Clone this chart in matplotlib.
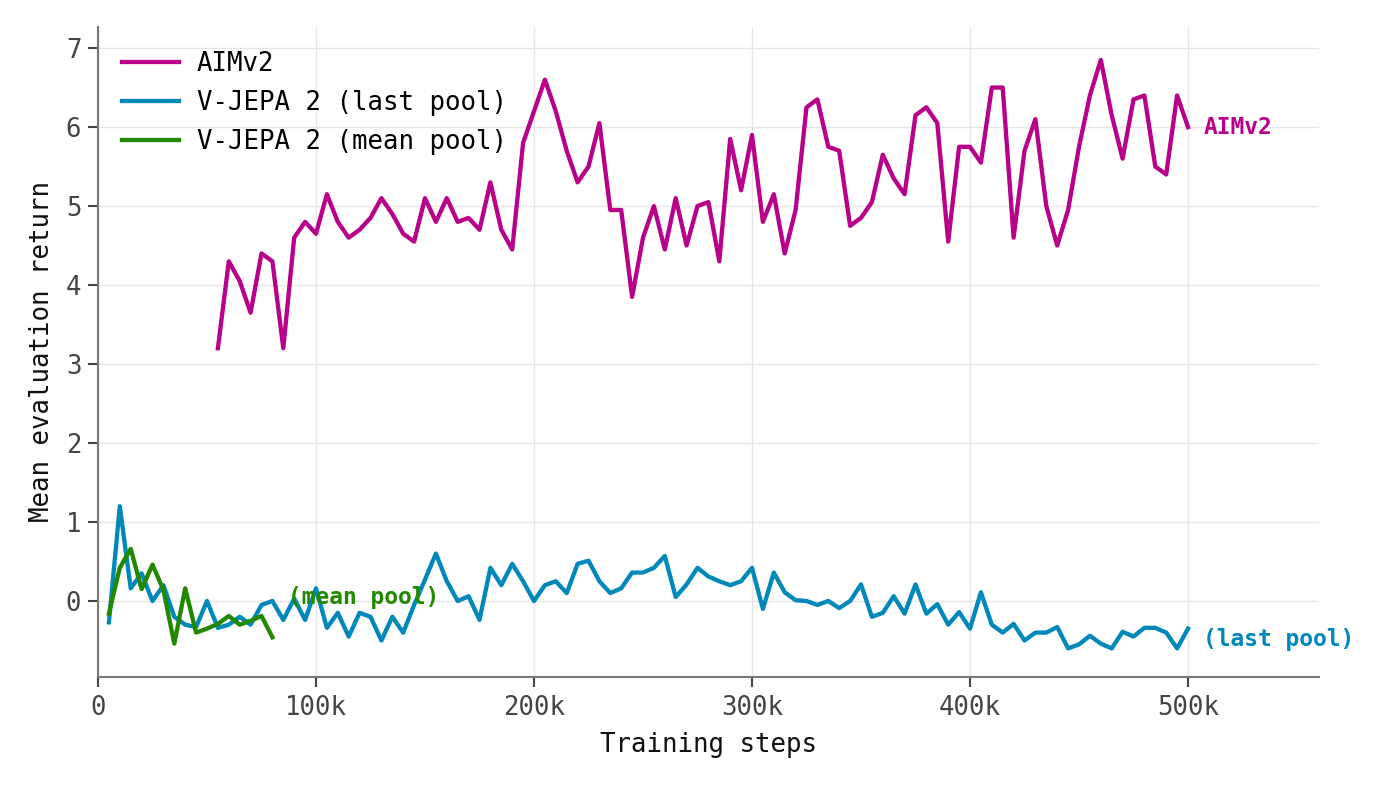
import numpy as np
import matplotlib
matplotlib.use('Agg')
import matplotlib.pyplot as plt

# training steps (thousands) and mean evaluation return
aim_steps = np.arange(55, 501, 5) * 1000
aim_ret = [3.2, 4.3, 4.05, 3.65, 4.4, 4.3, 3.2, 4.6, 4.8, 4.65,
           5.15, 4.8, 4.6, 4.7, 4.85, 5.1, 4.9, 4.65, 4.55, 5.1,
           4.8, 5.1, 4.8, 4.85, 4.7, 5.3, 4.7, 4.45, 5.8, 6.2,
           6.6, 6.2, 5.7, 5.3, 5.5, 6.05, 4.95, 4.95, 3.85, 4.6,
           5.0, 4.45, 5.1, 4.5, 5.0, 5.05, 4.3, 5.85, 5.2, 5.9,
           4.8, 5.15, 4.4, 4.95, 6.25, 6.35, 5.75, 5.7, 4.75, 4.85,
           5.05, 5.65, 5.35, 5.15, 6.15, 6.25, 6.05, 4.55, 5.75, 5.75,
           5.55, 6.5, 6.5, 4.6, 5.7, 6.1, 5.0, 4.5, 4.95, 5.75,
           6.4, 6.85, 6.15, 5.6, 6.35, 6.4, 5.5, 5.4, 6.4, 6.0]

last_steps = np.arange(5, 501, 5) * 1000
last_ret = [-0.27, 1.2, 0.16, 0.35, 0.0, 0.2, -0.2, -0.3, -0.33, 0.0,
            -0.34, -0.3, -0.2, -0.3, -0.05, 0.0, -0.24, 0.03, -0.24, 0.16,
            -0.34, -0.15, -0.45, -0.15, -0.2, -0.5, -0.2, -0.4, -0.05, 0.27,
            0.6, 0.25, 0.0, 0.06, -0.24, 0.42, 0.2, 0.47, 0.25, 0.0,
            0.2, 0.25, 0.1, 0.47, 0.51, 0.25, 0.1, 0.16, 0.36, 0.36,
            0.42, 0.57, 0.05, 0.21, 0.42, 0.31, 0.25, 0.2, 0.25, 0.42,
            -0.1, 0.36, 0.11, 0.01, 0.0, -0.05, 0.0, -0.09, 0.0, 0.21,
            -0.2, -0.15, 0.06, -0.16, 0.21, -0.16, -0.04, -0.3, -0.14, -0.35,
            0.11, -0.3, -0.4, -0.29, -0.5, -0.4, -0.4, -0.33, -0.6, -0.55,
            -0.44, -0.54, -0.6, -0.39, -0.45, -0.34, -0.34, -0.4, -0.6, -0.35]

mean_steps = np.arange(5, 81, 5) * 1000
mean_ret = [-0.16, 0.42, 0.66, 0.15, 0.46, 0.14, -0.54, 0.16,
            -0.4, -0.35, -0.29, -0.19, -0.3, -0.25, -0.19, -0.46]

c_aim = '#b8008a'
c_last = '#0088bb'
c_mean = '#228800'

plt.rcParams['font.family'] = ['DejaVu Sans Mono', 'DejaVu Sans']

fig = plt.figure(figsize=(14, 7.87), dpi=100)
ax = fig.add_axes([0.07, 0.14, 0.872, 0.826])

ax.plot(aim_steps, aim_ret, color=c_aim, lw=3.1, label='AIMv2')
ax.plot(last_steps, last_ret, color=c_last, lw=3.1, label='V-JEPA 2 (last pool)')
ax.plot(mean_steps, mean_ret, color=c_mean, lw=3.1, label='V-JEPA 2 (mean pool)')

# end-of-line labels
ax.annotate('AIMv2', (aim_steps[-1], aim_ret[-1]), xytext=(11, 0),
            textcoords='offset points', color=c_aim, fontsize=16.5,
            fontweight='bold', va='center')
ax.annotate('(last pool)', (last_steps[-1], last_ret[-1]), xytext=(11, -8),
            textcoords='offset points', color=c_last, fontsize=16.5,
            fontweight='bold', va='center')
ax.annotate('(mean pool)', (mean_steps[-1], mean_ret[-1]), xytext=(11, 29),
            textcoords='offset points', color=c_mean, fontsize=16.5,
            fontweight='bold', va='center')

ax.set_xlim(0, 560000)
ax.set_ylim(-0.96, 7.27)
ax.set_xticks([0, 100000, 200000, 300000, 400000, 500000])
ax.set_xticklabels(['0', '100k', '200k', '300k', '400k', '500k'])
ax.set_yticks(range(0, 8))

ax.grid(True, color='#e6e6e6', lw=1)
ax.set_axisbelow(True)
for s in ['top', 'right']:
    ax.spines[s].set_visible(False)
for s in ['left', 'bottom']:
    ax.spines[s].set_color('#777777')
    ax.spines[s].set_linewidth(1.5)
ax.tick_params(axis='both', labelsize=18.5, colors='#444444', length=7, width=1.5,
               labelcolor='#444444')
ax.tick_params(axis='x', pad=6)
ax.tick_params(axis='y', pad=5)

ax.set_xlabel('Training steps', fontsize=18.5, color='#111111', labelpad=8)
ax.set_ylabel('Mean evaluation return', fontsize=18.5, color='#111111', labelpad=8)

ax.legend(loc='upper left', frameon=False, fontsize=18.5, handlelength=2.2,
          bbox_to_anchor=(0.0, 1.0), borderaxespad=0.55, handletextpad=0.7)

fig.savefig('out.png', dpi=100)
